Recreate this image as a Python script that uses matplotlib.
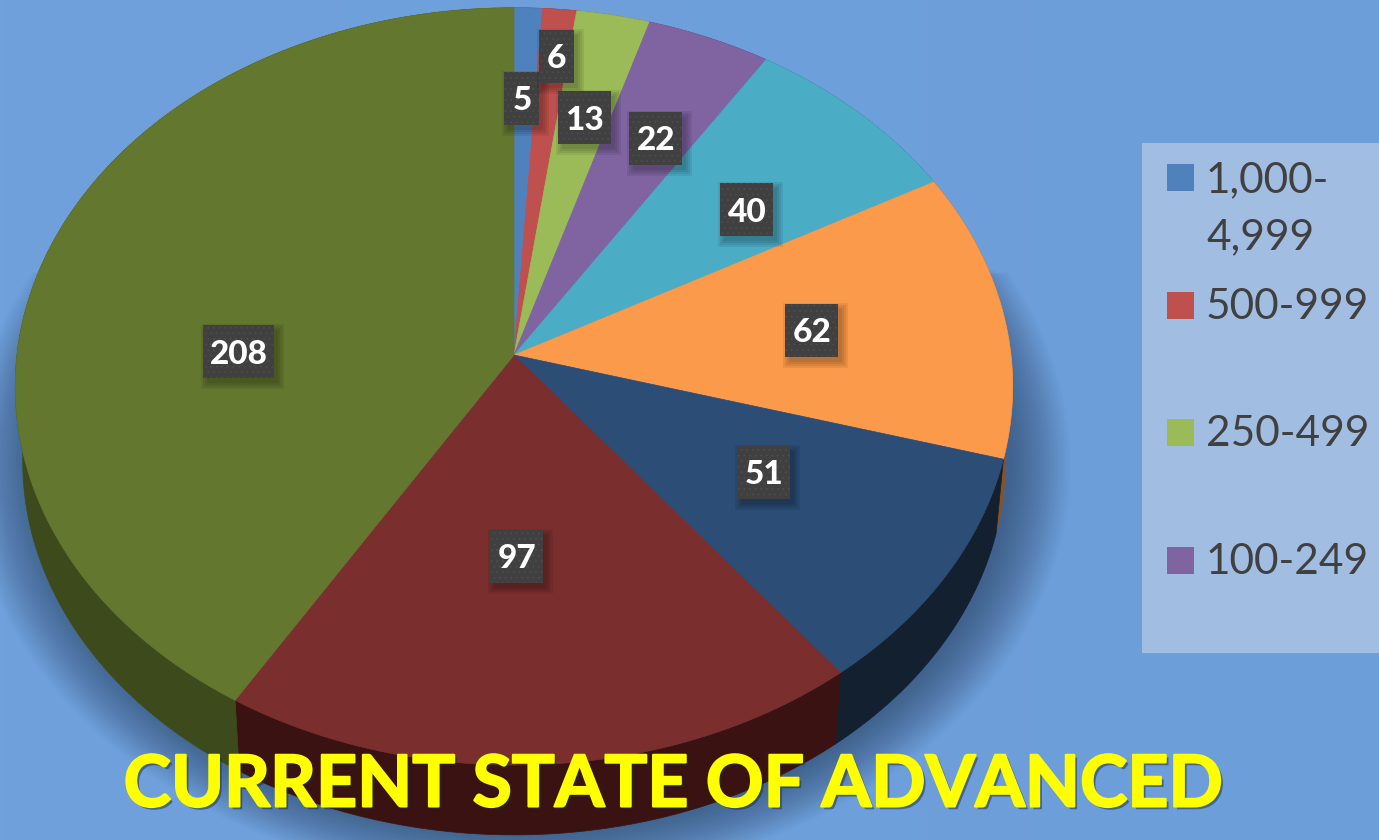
import numpy as np
import matplotlib
matplotlib.use("Agg")
import matplotlib.pyplot as plt
import matplotlib.patheffects as pe
from matplotlib.patches import Polygon, Rectangle

# slice values, clockwise from 12 o'clock
values = [5, 6, 13, 22, 40, 62, 51, 97, 208]
top_colors = ['#4f81bd', '#c0504d', '#9bbb59', '#8064a2', '#4bacc6',
              '#fb9a4a', '#2c4d75', '#7b2e2e', '#64772f']
wall_colors = ['#2c4a6e', '#6e2c2a', '#5a6e33', '#4a3a5e', '#2b6475',
               '#8a5220', '#12202f', '#3a1212', '#3d4a1c']

legend_labels = ['1,000-\n4,999', '500-999', '250-499', '100-249']
legend_y = [177, 305, 432, 560]
title = 'CURRENT STATE OF ADVANCED'

# centres of the data label boxes, pixels
label_x = [521, 556, 584, 655, 746, 811, 763, 516, 238]
label_y = [98, 56, 117, 138, 209, 330, 472, 556, 351]

CX, CY = 514, 355
A, B, K = 497, 376, 0.083
WALL_SCALE, WALL_DROP = 0.985, 76


def project(theta, scale=1.0, drop=0.0):
    # tilted circle, near side bigger than far side
    u, v = np.sin(theta), np.cos(theta)
    d = 1 + K * v
    return CX + scale * A * u / d, CY + drop - scale * B * v / d


fig = plt.figure(figsize=(13.79, 8.4), dpi=100)
ax = fig.add_axes([0, 0, 1, 1])
ax.set_xlim(0, 1379)
ax.set_ylim(840, 0)
ax.axis('off')

# background
grad = np.linspace(0, 1, 256).reshape(1, -1)
bg = matplotlib.colors.LinearSegmentedColormap.from_list('bg', ['#70a1dd', '#6c9eda'])
ax.imshow(grad, extent=(0, 1379, 840, 0), cmap=bg, aspect='auto', zorder=0)

# soft shadow under the pie
ring = np.linspace(0, 2 * np.pi, 400)
for g in np.linspace(1.12, 1.0, 24):
    sx, sy = project(ring, WALL_SCALE * g, WALL_DROP)
    keep = sy > 270
    ax.fill(sx[keep] + 6, sy[keep], color='#23344f', alpha=0.026, lw=0, zorder=1)

edges = np.cumsum([0] + values) / sum(values) * 2 * np.pi

# side walls
for i in range(len(values)):
    t = np.linspace(edges[i], edges[i + 1], 120)
    x0, y0 = project(t)
    x1, y1 = project(t, WALL_SCALE, WALL_DROP)
    pts = np.column_stack([np.r_[x0, x1[::-1]], np.r_[y0, y1[::-1]]])
    ax.add_patch(Polygon(pts, closed=True, fc=wall_colors[i], ec=wall_colors[i], lw=0.5, zorder=2))

# top faces
for i in range(len(values)):
    t = np.linspace(edges[i], edges[i + 1], 120)
    x0, y0 = project(t)
    pts = np.column_stack([np.r_[CX, x0], np.r_[CY, y0]])
    ax.add_patch(Polygon(pts, closed=True, fc=top_colors[i], ec=top_colors[i], lw=0.5, zorder=3))

# data labels
matplotlib.rcParams['hatch.linewidth'] = 0.5
for i, v in enumerate(values):
    w = 35 if v < 10 else (53 if v < 100 else 71)
    h = 53
    x, y = label_x[i] - w / 2, label_y[i] - h / 2
    for grow in (6, 4, 2, 0):
        ax.add_patch(Rectangle((x + 4 - grow, y + 5 - grow), w + 2 * grow, h + 2 * grow,
                               fc='black', alpha=0.07, lw=0, zorder=4 + i * 0.1))
    ax.add_patch(Rectangle((x, y), w, h, fc='#404040', ec='#4e4e4e', hatch='...',
                           lw=0, zorder=4.05 + i * 0.1))
    ax.text(label_x[i] + 1, label_y[i] + 3, str(v), color='white', fontsize=24, fontweight='black',
            family='Lato', ha='center', va='center', zorder=4.08 + i * 0.1)

# legend
ax.add_patch(Rectangle((1142, 143), 237, 510, fc='#a2bde2', lw=0, zorder=2))
for i, lab in enumerate(legend_labels):
    ax.add_patch(Rectangle((1167, legend_y[i] - 13), 27, 27, fc=top_colors[i], lw=0, zorder=3))
    ty = legend_y[i] + 2 if '\n' not in lab else legend_y[i] + 32
    ax.text(1206, ty, lab, color='#404040', fontsize=30.5, family='Lato',
            ha='left', va='center', linespacing=1.62, zorder=3)

# title
ax.text(673, 786, title, color='#ffff00', fontsize=51.5, fontweight='bold', family='Lato',
        ha='center', va='center', zorder=8,
        path_effects=[pe.withSimplePatchShadow(offset=(2, -2), shadow_rgbFace='#1c2c40', alpha=0.5),
                      pe.withStroke(linewidth=1.5, foreground='#ffff00')])

fig.savefig('out.png', dpi=100)
